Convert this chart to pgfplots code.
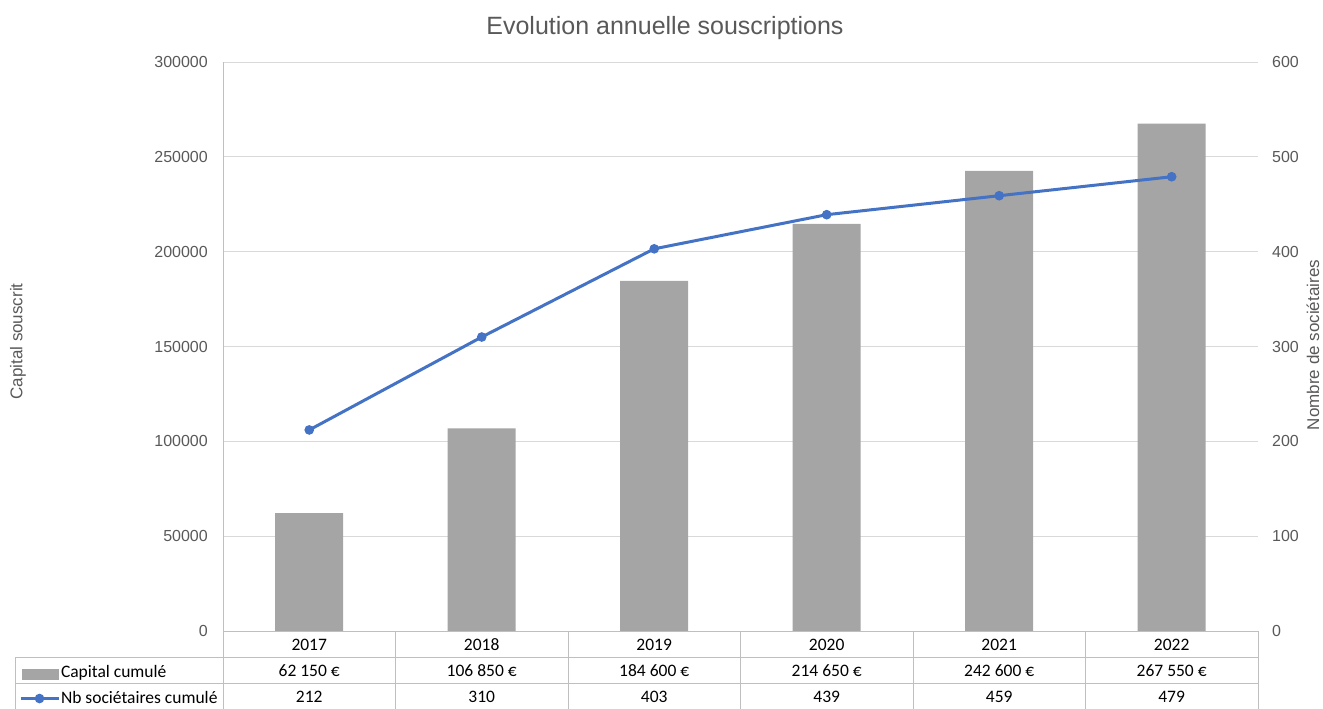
\documentclass[border=0pt]{standalone}
\usepackage{fontspec}
\setmainfont{Liberation Sans}
\newfontfamily\calibri{Carlito}
\usepackage{pgfplots}
\pgfplotsset{compat=1.18}

\definecolor{tickgray}{HTML}{595959}
\definecolor{gridgray}{HTML}{D9D9D9}
\definecolor{axisgray}{HTML}{BFBFBF}
\definecolor{barcol}{HTML}{A5A5A5}
\definecolor{linecol}{HTML}{4472C4}

\pgfplotsset{
  table legend bar/.style={legend image code/.code={\fill[barcol] (2pt,-5.5pt) rectangle (38pt,4.5pt);}},
  table legend line/.style={legend image code/.code={%
    \draw[mark repeat=2, mark phase=2, linecol, line width=3pt, mark=*, mark size=4.3pt,
      mark options={fill=linecol, draw=linecol, line width=1pt}]
      plot coordinates {(0pt,1pt) (19pt,1pt) (38pt,1pt)};}},
}

\begin{document}
\begin{tikzpicture}
\path[use as bounding box] (0pt,0pt) rectangle (1323pt,709pt);

% title
\node[anchor=base, font=\fontsize{25}{30}\selectfont, text=tickgray] at (665pt,674pt) {Evolution annuelle souscriptions};

% left axis: capital (bars) + data table
\begin{axis}[
  at={(223pt,78pt)}, anchor=south west,
  width=1035pt, height=569pt, scale only axis,
  xmin=-0.5, xmax=5.5, ymin=0, ymax=300000,
  scaled y ticks=false,
  axis x line*=bottom, axis y line*=left,
  axis line style={draw=axisgray, line width=0.8pt},
  ymajorgrids, grid style={draw=gridgray, line width=0.8pt},
  ytick={0,50000,100000,150000,200000,250000,300000},
  yticklabels={0,50000,100000,150000,200000,250000,300000},
  xtick={0,1,2,3,4,5},
  xticklabels={{2017\\62 150 €\\212},{2018\\106 850 €\\310},{2019\\184 600 €\\403},
               {2020\\214 650 €\\439},{2021\\242 600 €\\459},{2022\\267 550 €\\479}},
  major tick length=0pt,
  yticklabel style={font=\fontsize{16}{19}\selectfont, text=tickgray, inner sep=0pt, xshift=-15pt},
  xticklabel style={font=\calibri\fontsize{17.5}{26}\selectfont, align=center, inner sep=0pt, yshift=-7.5pt},
  every axis y label/.style={at={(-0.198,0.5088)}, rotate=90, anchor=center,
    font=\fontsize{17}{20}\selectfont, text=tickgray},
  ylabel={Capital souscrit},
  clip=false,
]
\addplot[ybar, bar width=68pt, bar shift=0pt, fill=barcol, draw=none]
  coordinates {(0,62150) (1,106850) (2,184600) (3,214650) (4,242600) (5,267550)};
\end{axis}

% right axis: number of members (line)
\begin{axis}[
  at={(223pt,78pt)}, anchor=south west,
  width=1035pt, height=569pt, scale only axis,
  xmin=-0.5, xmax=5.5, ymin=0, ymax=600,
  scaled y ticks=false,
  axis y line*=right, axis x line=none,
  axis line style={draw=none},
  ytick={0,100,200,300,400,500,600},
  yticklabels={0,100,200,300,400,500,600},
  major tick length=0pt,
  yticklabel style={font=\fontsize{16}{19}\selectfont, text=tickgray, inner sep=0pt, xshift=14pt},
  every axis y label/.style={at={(1.0531,0.5026)}, rotate=90, anchor=center,
    font=\fontsize{17}{20}\selectfont, text=tickgray},
  ylabel={Nombre de sociétaires},
  clip=false,
  legend style={at={(-0.1971,-0.0519)}, anchor=north west, draw=none, fill=none,
    inner sep=0pt, outer sep=0pt, row sep=0pt, column sep=0pt,
    nodes={inner ysep=0pt, inner xsep=1pt, text height=17pt, text depth=9pt,
      font=\calibri\fontsize{17.5}{21}\selectfont}},
  legend cell align=left,
]
\addlegendimage{table legend bar}
\addlegendentry{Capital cumulé}
\addplot[color=linecol, line width=3pt, mark=*, mark size=4.3pt,
  mark options={fill=linecol, draw=linecol, line width=1pt}, table legend line]
  coordinates {(0,212) (1,310) (2,403) (3,439) (4,459) (5,479)};
\addlegendentry{Nb sociétaires cumulé}
\end{axis}

% data table rules
\begin{scope}[draw=axisgray, line width=0.8pt]
\foreach \k in {0,...,6} {\draw (223pt+172.5pt*\k,0pt) -- (223pt+172.5pt*\k,78pt);}
\draw (15pt,52pt) -- (1258pt,52pt);
\draw (15pt,26pt) -- (1258pt,26pt);
\draw (15pt,0pt) -- (15pt,52pt);
\end{scope}
\end{tikzpicture}
\end{document}
